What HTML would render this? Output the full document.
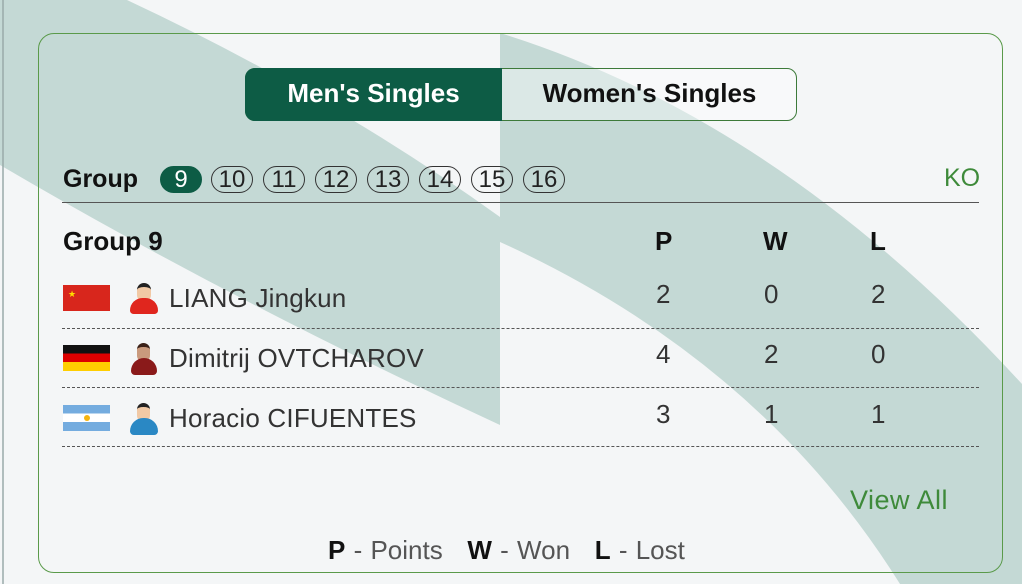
<!DOCTYPE html>
<html><head><meta charset="utf-8"><style>
body{margin:0;width:1022px;height:584px;overflow:hidden;background:#f4f6f7;font-family:"Liberation Sans",sans-serif;position:relative}
.a{position:absolute;white-space:nowrap}
.b{font-weight:bold;color:#111}
.pill{position:absolute;top:166px;height:27px;width:42px;border:1.5px solid #333;border-radius:14px;box-sizing:border-box;text-align:center;font-size:24px;line-height:25px;color:#222}
.dash{position:absolute;left:62px;width:917px;border-top:1.5px dashed #555}
.n{font-size:26px;color:#333;letter-spacing:0.2px}
.d{font-size:26px;color:#333}
</style></head><body>
<svg class="a" style="left:0;top:0" width="1022" height="584">
<path d="M0,0 L127,0 Q330,95 500,217 L500,425 Q230,300 0,165 Z" fill="#c4d9d5"/>
<path d="M500,33 Q780,120 1022,384 L1022,584 L900,584 Q760,360 500,242 Z" fill="#c4d9d5"/>
<line x1="3" y1="0" x2="3" y2="584" stroke="#9aa" stroke-width="1.5"/>
</svg>
<div class="a" style="left:38px;top:33px;width:965px;height:540px;border:1.5px solid #5a9a4a;border-radius:16px;box-sizing:border-box"></div>
<div class="a" style="left:245px;top:68px;width:552px;height:53px;border:1.5px solid #3d7a3a;border-radius:10px;box-sizing:border-box;background:rgba(255,255,255,0.4)"></div>
<div class="a" style="left:245px;top:68px;width:257px;height:53px;background:#0d5c45;border-radius:10px 0 0 10px;color:#fff;font-weight:bold;font-size:26px;line-height:50px;text-align:center">Men's Singles</div>
<div class="a b" style="left:502px;top:68px;width:295px;line-height:50px;font-size:26px;text-align:center">Women's Singles</div>
<div class="a b" style="left:63px;top:165px;font-size:25px">Group</div>
<div class="pill" style="left:160px;background:#0d5c45;border-color:#0d5c45;color:#fff">9</div>
<div class="pill" style="left:211px">10</div>
<div class="pill" style="left:263px">11</div>
<div class="pill" style="left:315px">12</div>
<div class="pill" style="left:367px">13</div>
<div class="pill" style="left:419px">14</div>
<div class="pill" style="left:471px">15</div>
<div class="pill" style="left:523px">16</div>
<div class="a" style="left:944px;top:164px;font-size:25px;color:#3e8a3a">KO</div>
<div class="a" style="left:62px;top:202px;width:917px;border-top:1.5px solid #555"></div>
<div class="a b" style="left:63px;top:226px;font-size:26px">Group 9</div>
<div class="a b" style="left:655px;top:226px;font-size:26px">P</div>
<div class="a b" style="left:763px;top:226px;font-size:26px">W</div>
<div class="a b" style="left:870px;top:226px;font-size:26px">L</div>
<div class="a" style="left:63px;top:285px;width:47px;height:26px;background:#d8261c"></div>
<div class="a" style="left:68px;top:289px;color:#ffde00;font-size:9px">★</div>
<div class="a" style="left:63px;top:345px;width:47px;height:26px;background:linear-gradient(#111 33%,#dd0000 33% 66%,#ffce00 66%)"></div>
<div class="a" style="left:63px;top:405px;width:47px;height:26px;background:linear-gradient(#74acdf 33%,#fff 33% 66%,#74acdf 66%)"></div>
<div class="a" style="left:84px;top:415px;width:6px;height:6px;border-radius:3px;background:#f6b40e"></div>
<div class="a" style="left:137px;top:283px;width:14px;height:15px;border-radius:7px;background:#f1c9a5;border-top:4px solid #222"></div>
<div class="a" style="left:130px;top:298px;width:28px;height:16px;border-radius:14px 14px 4px 4px;background:#e0261e"></div>
<div class="a" style="left:137px;top:343px;width:13px;height:15px;border-radius:7px;background:#c99a7d;border-top:4px solid #3a2118"></div>
<div class="a" style="left:131px;top:358px;width:26px;height:17px;border-radius:13px 13px 4px 4px;background:#8a1a1a"></div>
<div class="a" style="left:137px;top:403px;width:13px;height:15px;border-radius:7px;background:#f1c9a5;border-top:4px solid #222"></div>
<div class="a" style="left:130px;top:418px;width:28px;height:17px;border-radius:14px 14px 4px 4px;background:#2a88c4"></div>
<div class="a n" style="left:169px;top:283px">LIANG Jingkun</div>
<div class="a n" style="left:169px;top:343px">Dimitrij OVTCHAROV</div>
<div class="a n" style="left:169px;top:403px">Horacio CIFUENTES</div>
<div class="a d" style="left:656px;top:279px">2</div><div class="a d" style="left:764px;top:279px">0</div><div class="a d" style="left:871px;top:279px">2</div>
<div class="a d" style="left:656px;top:339px">4</div><div class="a d" style="left:764px;top:339px">2</div><div class="a d" style="left:871px;top:339px">0</div>
<div class="a d" style="left:656px;top:399px">3</div><div class="a d" style="left:764px;top:399px">1</div><div class="a d" style="left:871px;top:399px">1</div>
<div class="dash" style="top:328px"></div>
<div class="dash" style="top:387px"></div>
<div class="dash" style="top:446px"></div>
<div class="a" style="left:850px;top:485px;font-size:27px;color:#3e8a3a;letter-spacing:0.5px">View All</div>
<div class="a" style="left:328px;top:535px;font-size:26px;color:#555;word-spacing:1px"><b style="color:#111">P</b> - Points &nbsp;&nbsp;<b style="color:#111">W</b> - Won &nbsp;&nbsp;<b style="color:#111">L</b> - Lost</div>
</body></html>
